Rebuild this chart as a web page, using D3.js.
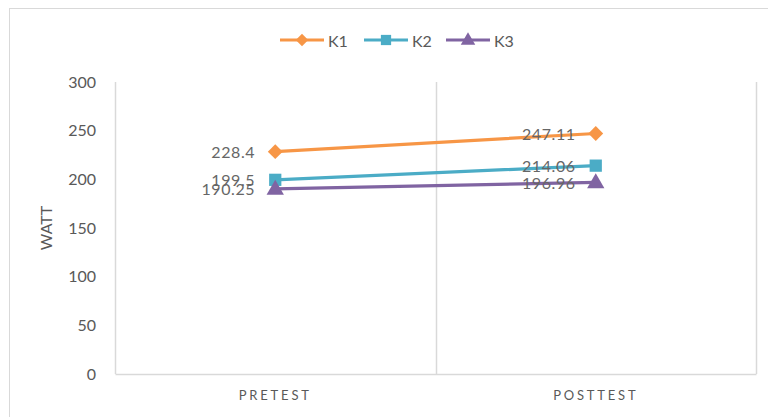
<!DOCTYPE html>
<html><head><meta charset="utf-8">
<script src="https://cdn.jsdelivr.net/npm/d3@7"></script>
<style>
html,body{margin:0;padding:0;background:#fff;}
svg{display:block;font-family:Lato,"Open Sans",sans-serif;}
</style></head>
<body>
<svg id="chart" width="768" height="417"></svg>
<script>
const categories = ["PRETEST", "POSTTEST"];
const seriesNames = ["K1", "K2", "K3"];
const k1Values = [228.4, 247.11];
const k2Values = [199.5, 214.06];
const k3Values = [190.25, 196.96];
const yTicks = [0, 50, 100, 150, 200, 250, 300];
const yTitle = "WATT";

const seriesValues = [k1Values, k2Values, k3Values];
const colors = ["#F79646", "#4BACC6", "#8064A2"];

// square-proportioned diamond
const squareDiamond = {
  draw(ctx, size) {
    const r = Math.sqrt(size / 2);
    ctx.moveTo(0, -r); ctx.lineTo(r, 0); ctx.lineTo(0, r); ctx.lineTo(-r, 0); ctx.closePath();
  }
};
const markers = [squareDiamond, d3.symbolSquare, d3.symbolTriangle];
const markerSizes = [110, 150, 130];

const svg = d3.select("#chart");
const plot = {left: 115, right: 756, top: 82, bottom: 374};

// outer border
svg.append("rect").attr("x", 9.5).attr("y", 8.5).attr("width", 800).attr("height", 500)
  .attr("fill", "none").attr("stroke", "#d9d9d9").attr("stroke-width", 1);

const x = d3.scaleBand().domain(categories).range([plot.left, plot.right]).padding(0);
const y = d3.scaleLinear().domain([0, 300]).range([plot.bottom, plot.top]);

const frameColor = "#d9d9d9";
const bounds = [plot.left, ...categories.slice(1).map(c => x(c)), plot.right];
svg.append("g").selectAll("line").data(bounds).join("line")
  .attr("x1", d => Math.round(d) + 0.5).attr("x2", d => Math.round(d) + 0.5)
  .attr("y1", plot.top).attr("y2", plot.bottom)
  .attr("stroke", frameColor).attr("stroke-width", 1.5);

// x axis
const xAxis = svg.append("g").attr("transform", `translate(0,${plot.bottom})`)
  .call(d3.axisBottom(x).tickSize(0).tickPadding(17));
xAxis.select(".domain").attr("stroke", frameColor).attr("stroke-width", 1.5);
xAxis.selectAll("text").attr("fill", "#595959").attr("font-size", 13)
  .attr("letter-spacing", "2.8px").attr("font-family", "Lato,sans-serif");

// y axis
const yAxis = svg.append("g").attr("transform", `translate(${plot.left},0)`)
  .call(d3.axisLeft(y).tickValues(yTicks).tickSize(0).tickPadding(19));
yAxis.select(".domain").remove();
yAxis.selectAll("text").attr("fill", "#595959").attr("font-size", 16)
  .attr("font-family", "Lato,sans-serif");

// y title
svg.append("text").attr("transform", `translate(45,${(plot.top + plot.bottom) / 2}) rotate(-90)`)
  .attr("text-anchor", "middle").attr("dominant-baseline", "central")
  .attr("fill", "#595959").attr("font-size", 16).text(yTitle);

// lines
const cx = c => x(c) + x.bandwidth() / 2;
const line = d3.line().x((d, i) => cx(categories[i])).y(d => y(d));
seriesValues.forEach((vals, s) => {
  svg.append("path").datum(vals).attr("d", line)
    .attr("fill", "none").attr("stroke", colors[s]).attr("stroke-width", 3.2)
    .attr("stroke-linecap", "round");
});
seriesValues.forEach((vals, s) => {
  svg.append("g").selectAll("path").data(vals).join("path")
    .attr("transform", (d, i) => `translate(${cx(categories[i])},${y(d) + (s === 2 ? 1 : 0)})`)
    .attr("d", d3.symbol().type(markers[s]).size(markerSizes[s]))
    .attr("fill", colors[s]);
});
// data labels
seriesValues.forEach((vals, s) => {
  svg.append("g").selectAll("text").data(vals).join("text")
    .attr("x", (d, i) => cx(categories[i]) - 20)
    .attr("y", d => y(d))
    .attr("text-anchor", "end").attr("dominant-baseline", "central")
    .attr("fill", "#666666").attr("font-size", 16).attr("letter-spacing", "0.6px").text(d => d);
});

// legend
const legendX = [280, 364, 446];
const lg = svg.append("g");
seriesNames.forEach((n, s) => {
  const g = lg.append("g").attr("transform", `translate(${legendX[s]},40)`);
  g.append("line").attr("x1", 0).attr("x2", 44).attr("y1", 0).attr("y2", 0)
    .attr("stroke", colors[s]).attr("stroke-width", 3.2);
  g.append("path").attr("transform", `translate(22,${s === 2 ? 0.5 : 0})`)
    .attr("d", d3.symbol().type(markers[s]).size(markerSizes[s] * 0.7)).attr("fill", colors[s]);
  g.append("text").attr("x", 48).attr("y", 0).attr("dominant-baseline", "central")
    .attr("fill", "#595959").attr("font-size", 16).text(n);
});
</script>
</body></html>
